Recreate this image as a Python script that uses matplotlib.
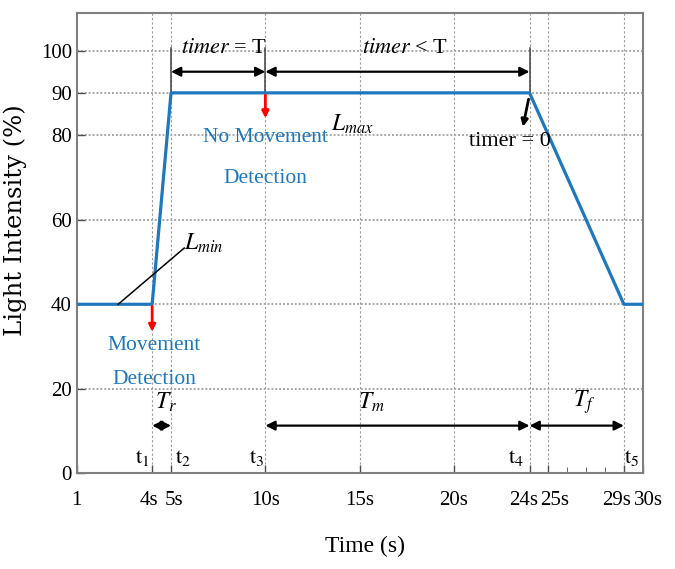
import matplotlib
matplotlib.use('Agg')
import matplotlib.pyplot as plt
from matplotlib.transforms import ScaledTranslation

plt.rcParams['font.family'] = ['Liberation Serif', 'DejaVu Serif']
plt.rcParams['mathtext.fontset'] = 'stix'

# light intensity profile
time_s = [0, 4, 5, 24, 29, 30]
light_pct = [40, 40, 90, 90, 40, 40]

x_ticks = [0, 4, 5, 10, 15, 20, 24, 25, 29, 30]
x_labels = ['1', '4s', '5s', '10s', '15s', '20s', '24s', '25s', '29s', '30s']
x_minor = [26, 27, 28]
y_ticks = [0, 20, 40, 60, 80, 90, 100]
x_grid = [4, 5, 10, 15, 20, 24, 25, 29]

blue = '#1f78bd'

fig = plt.figure(figsize=(6.75, 5.69), dpi=100)
ax = fig.add_axes([0.1136, 0.168, 0.8386, 0.810])

ax.plot(time_s, light_pct, color=blue, lw=2.3, zorder=3)

ax.set_xlim(0, 30)
ax.set_ylim(0, 109)
ax.set_xticks(x_ticks)
ax.set_xticklabels(x_labels)
ax.set_xticks(x_minor, minor=True)
ax.set_yticks(y_ticks)
ax.tick_params(axis='both', which='major', direction='in', length=6, labelsize=15,
               color='#505050', width=1)
ax.tick_params(axis='x', which='minor', direction='in', length=4, color='#505050')
ax.tick_params(axis='x', pad=13)
for sp in ax.spines.values():
    sp.set_color('#808080')
    sp.set_linewidth(1.5)

# nudge crowded tick labels apart (pixels)
nudge = {'4s': -3, '5s': 3, '24s': -6, '25s': 6, '29s': -7, '30s': 6}
for lbl in ax.get_xticklabels():
    dx = nudge.get(lbl.get_text(), 0)
    if dx:
        lbl.set_transform(lbl.get_transform() + ScaledTranslation(dx / 100, 0, fig.dpi_scale_trans))

for xg in x_grid:
    ax.axvline(xg, color='#9a9a9a', lw=0.8, ls=(0, (2, 2)), zorder=1)
for yg in [20, 40, 60, 80, 90, 100]:
    ax.axhline(yg, color='#a8a8a8', lw=1.4, ls=(0, (1, 1)), zorder=1)

ax.set_ylabel('Light Intensity (%)', family='DejaVu Serif', fontsize=17.5)
ax.yaxis.set_label_coords(-0.088, 0.55)
ax.set_xlabel('Time (s)', fontsize=17)
ax.xaxis.set_label_coords(0.509, -0.135)

arrow_kw = dict(arrowstyle='<|-|>', color='black', lw=1.6, mutation_scale=14,
                shrinkA=0, shrinkB=0)

# timer brackets on top
for xv in [5, 10, 24]:
    ax.plot([xv, xv], [90, 100.5], color='#404040', lw=1.1, zorder=2)
ax.annotate('', xy=(5, 95), xytext=(10, 95), arrowprops=arrow_kw)
ax.annotate('', xy=(10, 95), xytext=(24, 95), arrowprops=arrow_kw)
ax.text(7.8, 100.4, r'$timer$ = T', fontsize=16, ha='center', va='center')
ax.text(17.4, 100.4, r'$timer$ < T', fontsize=16, ha='center', va='center')

# red detection arrows
red_kw = dict(arrowstyle='-|>', color='red', lw=2, mutation_scale=10,
              shrinkA=0, shrinkB=0)
ax.annotate('', xy=(10, 84), xytext=(10, 89.5), arrowprops=red_kw)
ax.annotate('', xy=(4, 33.5), xytext=(4, 39.5), arrowprops=red_kw)

ax.text(10.0, 79.5, 'No Movement', color=blue, fontsize=15.5, ha='center', va='center')
ax.text(10.0, 69.8, 'Detection', color=blue, fontsize=15.5, ha='center', va='center')
ax.text(4.1, 30.3, 'Movement', color=blue, fontsize=15.5, ha='center', va='center')
ax.text(4.1, 22.3, 'Detection', color=blue, fontsize=15.5, ha='center', va='center')

ax.text(14.6, 82.6, r'$L_{max}$', fontsize=17, ha='center', va='center')

# timer = 0 pointer
ax.annotate('', xy=(23.65, 82), xytext=(23.95, 88.5),
            arrowprops=dict(arrowstyle='-|>', color='black', lw=2, mutation_scale=10,
                            shrinkA=0, shrinkB=0))
ax.text(22.95, 78.6, 'timer = 0', fontsize=16, ha='center', va='center')

# L_min pointer
ax.plot([2.2, 5.7], [40, 53.3], color='black', lw=1.1, zorder=4)
ax.text(5.7, 54.5, r'$L_{min}$', fontsize=17, ha='left', va='center')

# durations at the bottom
ax.annotate('', xy=(4, 11.3), xytext=(5, 11.3), arrowprops=arrow_kw)
ax.annotate('', xy=(10, 11.3), xytext=(24, 11.3), arrowprops=arrow_kw)
ax.annotate('', xy=(24, 11.3), xytext=(29, 11.3), arrowprops=arrow_kw)
ax.text(4.75, 16.8, r'$T_r$', fontsize=17, ha='center', va='center')
ax.text(15.6, 16.8, r'$T_m$', fontsize=17, ha='center', va='center')
ax.text(26.9, 16.8, r'$T_f$', fontsize=17, ha='center', va='center')

for lbl, xv in [('1', 3.5), ('2', 5.65), ('3', 9.55), ('4', 23.3), ('5', 29.4)]:
    ax.text(xv, 3.6, r'$\mathrm{t}_{%s}$' % lbl, fontsize=16, ha='center', va='center')

fig.savefig('out.png', dpi=100)
